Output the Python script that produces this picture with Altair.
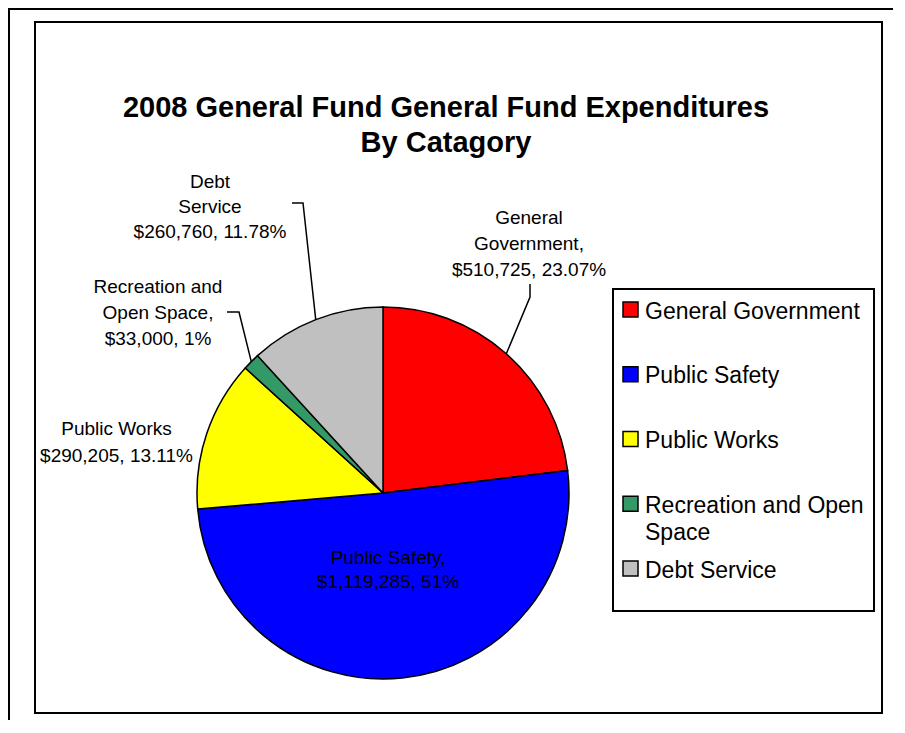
import math
import altair as alt
import pandas as pd

# ---------------- data ----------------
categories = ["General Government", "Public Safety", "Public Works",
              "Recreation and Open Space", "Debt Service"]
values = [510725, 1119285, 290205, 33000, 260760]
pct_labels = ["23.07%", "51%", "13.11%", "1%", "11.78%"]
label_heads = [["General", "Government,"], ["Public Safety,"], ["Public Works"],
               ["Recreation and", "Open Space,"], ["Debt", "Service"]]
legend_line1 = ["General Government", "Public Safety", "Public Works",
                "Recreation and Open", "Debt Service"]
legend_line2 = ["", "", "", "Space", ""]
colors = ["#FF0000", "#0000FF", "#FFFF00", "#339966", "#C0C0C0"]
title_lines = ["2008 General Fund General Fund Expenditures", "By Catagory"]

# ---------------- layout (style only) ----------------
W, H = 885, 712
CX, CY, R = 375, 485, 186
FONT = "Liberation Sans"
# label anchor: (centre x, first baseline, line height)
label_pos = {
    "General Government": (521, 216, 26),
    "Public Safety": (380, 556, 23.5),
    "Public Works": (108.5, 427, 26.5),
    "Recreation and Open Space": (150, 285, 26),
    "Debt Service": (202, 180, 25),
}
# leader line extra points (text end, elbow); edge point is computed from the slice angle
leader_pts = {
    "General Government": [(522, 276), (522, 289)],
    "Recreation and Open Space": [(219, 304), (231, 304)],
    "Debt Service": [(284, 195), (295, 195)],
}

df = pd.DataFrame({"cat": categories, "value": values, "idx": range(len(categories))})
total = sum(values)

# label text rows
lab_rows = []
for c, v, p, heads in zip(categories, values, pct_labels, label_heads):
    lines = heads + [f"${v:,}, {p}"]
    x0, y0, lh = label_pos[c]
    for i, t in enumerate(lines):
        lab_rows.append({"cat": c, "text": t, "x": x0, "y": y0 + i * lh})
lab_df = pd.DataFrame(lab_rows)

# leader lines
lead_rows = []
cum = 0.0
for c, v in zip(categories, values):
    mid = (cum + v / 2) / total
    cum += v
    if c not in leader_pts:
        continue
    a = 2 * math.pi * mid
    ex, ey = CX + R * math.sin(a), CY - R * math.cos(a)
    pts = leader_pts[c] + [(ex, ey)]
    for k, (px, py) in enumerate(pts):
        lead_rows.append({"cat": c, "k": k, "x": px, "y": py})
lead_df = pd.DataFrame(lead_rows)

leg_df = pd.DataFrame({"cat": categories, "l1": legend_line1, "l2": legend_line2})
one = pd.DataFrame({"a": [0]})

xs = alt.Scale(domain=[0, W], range=[0, W], nice=False, zero=False)
ys = alt.Scale(domain=[0, H], range=[0, H], nice=False, zero=False)
cscale = alt.Scale(domain=categories, range=colors)
legy = alt.Scale(type="point", domain=categories, range=[301.5, 560.5], padding=0)

inner_box = alt.Chart(one).mark_rect(fillOpacity=0, stroke="black", strokeWidth=2).encode(
    x=alt.value(27), x2=alt.value(874), y=alt.value(14), y2=alt.value(705))

pie = alt.Chart(df).mark_arc(outerRadius=R, stroke="black", strokeWidth=1.5).encode(
    theta=alt.Theta("value:Q", stack=True),
    color=alt.Color("cat:N", scale=cscale, legend=None),
    order=alt.Order("idx:Q"),
    x=alt.value(CX), y=alt.value(CY))

leaders = alt.Chart(lead_df).mark_line(color="black", strokeWidth=1.5).encode(
    x=alt.X("x:Q", scale=xs, axis=None),
    y=alt.Y("y:Q", scale=ys, axis=None),
    detail="cat:N",
    order="k:Q")

labels = alt.Chart(lab_df).mark_text(font=FONT, fontSize=19, align="center",
                                     baseline="alphabetic", color="black").encode(
    x=alt.X("x:Q", scale=xs, axis=None),
    y=alt.Y("y:Q", scale=ys, axis=None),
    text="text:N")

leg_box = alt.Chart(one).mark_rect(fillOpacity=0, stroke="black", strokeWidth=2).encode(
    x=alt.value(605), x2=alt.value(866), y=alt.value(281), y2=alt.value(603))

swatches = alt.Chart(leg_df).mark_square(size=225, opacity=1, filled=True,
                                         stroke="black", strokeWidth=1.5).encode(
    x=alt.value(622.5),
    y=alt.Y("cat:N", scale=legy, axis=None),
    color=alt.Color("cat:N", scale=cscale, legend=None))

leg_text1 = alt.Chart(leg_df).mark_text(font=FONT, fontSize=23, align="left",
                                        baseline="alphabetic", dy=9, color="black").encode(
    x=alt.value(637),
    y=alt.Y("cat:N", scale=legy, axis=None),
    text="l1:N")

leg_text2 = alt.Chart(leg_df).transform_filter("datum.l2 != ''").mark_text(
    font=FONT, fontSize=23, align="left", baseline="alphabetic", dy=36.5, color="black").encode(
    x=alt.value(637),
    y=alt.Y("cat:N", scale=legy, axis=None),
    text="l2:N")

title1 = alt.Chart(one).mark_text(font=FONT, fontSize=29, fontWeight="bold", align="center",
                                  baseline="alphabetic", text=title_lines[0]).encode(
    x=alt.value(438), y=alt.value(109))
title2 = alt.Chart(one).mark_text(font=FONT, fontSize=29, fontWeight="bold", align="center",
                                  baseline="alphabetic", text=title_lines[1]).encode(
    x=alt.value(438), y=alt.value(144))

outer_top = alt.Chart(one).mark_rule(color="black", strokeWidth=2).encode(
    x=alt.value(0), x2=alt.value(W), y=alt.value(1))
outer_left = alt.Chart(one).mark_rule(color="black", strokeWidth=2).encode(
    x=alt.value(1), y=alt.value(0), y2=alt.value(H))

chart = alt.layer(
    inner_box, pie, leaders, labels, leg_box, swatches, leg_text1, leg_text2,
    title1, title2, outer_top, outer_left
).resolve_scale(x="independent", y="independent", color="shared").properties(
    width=W, height=H, padding=0, autosize=alt.AutoSizeParams(type="none"),
    background="white"
).configure_view(stroke=None)

chart.save("out.html", embed_options={"renderer": "svg", "actions": False})
